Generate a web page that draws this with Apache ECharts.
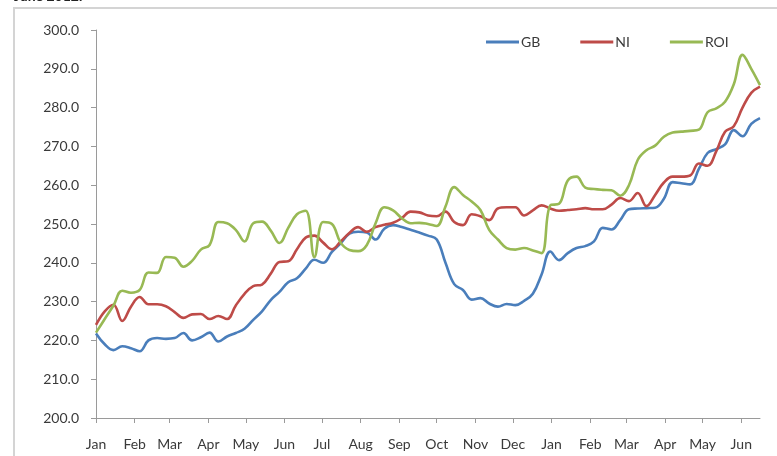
<!DOCTYPE html>
<html><head><meta charset="utf-8">
<script src="https://cdn.jsdelivr.net/npm/echarts@6/dist/echarts.min.js"></script>
<style>html,body{margin:0;padding:0;background:#fff}#c{width:777px;height:456px}</style>
</head><body><div id="c"></div>
<script>
// Weekly observations (week index from 1 Jan 2011)
const weekIndex = Array.from({length: 77}, (_, i) => i);
const GB = [221.8,219,217.5,218.5,218,217.2,220,220.6,220.4,220.6,221.9,220,220.8,222,219.7,221,221.9,223,225.3,227.5,230.4,232.5,235,236,238.5,240.8,240,242.8,245,247.5,248,247.8,246,248.8,249.7,249.2,248.5,247.8,247,246,240,234.5,233,230.5,230.9,229.5,228.7,229.4,229.1,230.2,232,237,242.9,240.7,242.5,243.8,244.3,245.5,249,248.6,251,253.8,254,254.1,254.2,256.5,260.8,260.5,260.2,264.2,268.3,269.3,270.5,274.2,272.6,275.8,277.3];
const NI = [224,227.5,229.2,225,228.7,231.2,229.3,229.3,228.8,227.3,225.8,226.7,226.8,225.5,226.3,225.5,229,232,234,234.4,237.2,240.2,240.4,243.5,246.5,247,245.2,243.5,245.5,247.7,249.2,248,249.2,249.8,250.3,251.5,253.2,253,252.2,252,253.2,250.5,249.7,252.5,252,251,254,254.3,254.3,252.2,253.5,254.8,254,253.4,253.6,253.8,254.1,253.8,253.8,255,256.7,255.9,258,254.6,257.5,260.7,262.2,262.2,262.5,265.6,265,268.8,273.8,275.2,280,283.8,285.4];
const ROI = [222,225.5,229,232.8,232.3,233,237.5,237.4,241.5,241.3,239,240.5,243.4,244.6,250.5,250.2,248.5,245.5,250.2,250.6,248.3,245.1,249,252.5,253.4,241.5,250.5,250,245.2,243.3,243,244.6,250.2,254.3,253.5,251.5,250.2,250.3,250,249.5,254.5,259.5,257.5,255.8,253.6,248.5,246,243.8,243.4,243.8,243.2,242.5,254.8,255.2,261.2,262.2,259.4,259,258.8,258.7,257.3,260,266.5,269,270.2,272.5,273.6,273.8,274,274.3,278.8,279.8,281.5,286,293.6,290,285.8];
// Month tick positions (days from 1 Jan 2011) and labels
const monthDays = [0,31,59,90,120,151,181,212,243,273,304,334,365,396,425,456,486,517];
const monthLabels = ['Jan','Feb','Mar','Apr','May','Jun','Jul','Aug','Sep','Oct','Nov','Dec','Jan','Feb','Mar','Apr','May','Jun'];
const yTicks = [200,210,220,230,240,250,260,270,280,290,300];

const toPts = arr => weekIndex.map((w, i) => [w * 7, arr[i]]);
const font = 'Lato, "Open Sans", sans-serif';
const txt = '#3a3a3a';
const chart = echarts.init(document.getElementById('c'), null, {renderer: 'canvas'});
chart.setOption({
  backgroundColor: '#ffffff',
  animation: false,
  graphic: [
    {type: 'rect', shape: {x: 14, y: 8, width: 800, height: 480}, style: {fill: 'none', stroke: '#d4d4d4', lineWidth: 2}, silent: true},
    {type: 'text', left: 14, top: -11, style: {text: 'June 2012.', font: 'bold 14px ' + font, fill: '#222'}}
  ],
  grid: {left: 96, right: 17, top: 30, bottom: 38},
  legend: {
    left: 481, top: 30, icon: 'rect', itemWidth: 33, itemHeight: 3, itemGap: 40,
    textStyle: {fontFamily: font, fontSize: 14, color: txt, padding: [0, 0, 0, -3]},
    data: ['GB', 'NI', 'ROI']
  },
  xAxis: {
    type: 'value', min: 0, max: 532,
    splitLine: {show: false},
    axisLine: {lineStyle: {color: '#9a9a9a', width: 1}},
    axisTick: {show: true, length: 5, lineStyle: {color: '#9a9a9a'}, customValues: monthDays},
    axisLabel: {
      customValues: monthDays, margin: 19,
      fontFamily: font, fontSize: 14, color: txt,
      formatter: v => { const k = monthDays.indexOf(Math.round(v)); return k >= 0 ? monthLabels[k] : ''; }
    }
  },
  yAxis: {
    type: 'value', min: yTicks[0], max: yTicks[yTicks.length - 1], interval: 10,
    splitLine: {show: false},
    axisLine: {show: true, lineStyle: {color: '#9a9a9a', width: 1}},
    axisTick: {show: true, length: 5, lineStyle: {color: '#9a9a9a'}},
    axisLabel: {margin: 17, fontFamily: font, fontSize: 14, color: txt, formatter: v => v.toFixed(1)}
  },
  series: [
    {name: 'GB', type: 'line', data: toPts(GB), smooth: 0.4, symbol: 'none', color: '#4a7ebb', lineStyle: {width: 2.6, color: '#4a7ebb'}},
    {name: 'NI', type: 'line', data: toPts(NI), smooth: 0.4, symbol: 'none', color: '#be4b48', lineStyle: {width: 2.6, color: '#be4b48'}},
    {name: 'ROI', type: 'line', data: toPts(ROI), smooth: 0.4, symbol: 'none', color: '#98b954', lineStyle: {width: 2.6, color: '#98b954'}}
  ]
});
</script></body></html>
